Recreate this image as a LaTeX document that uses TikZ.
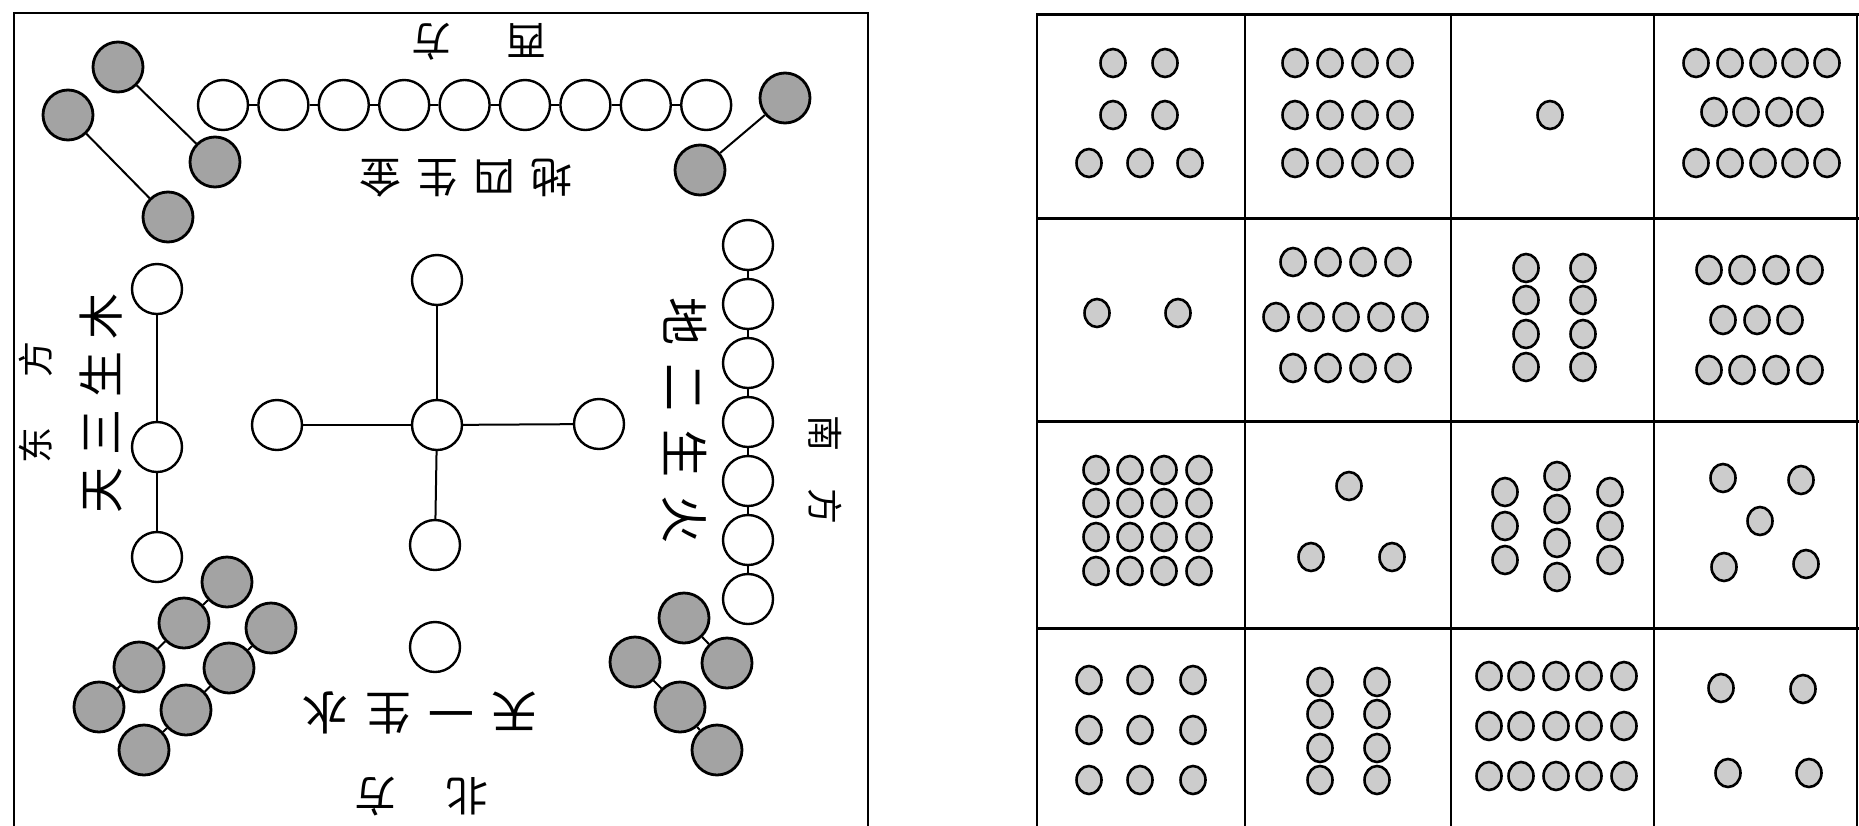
\documentclass[tikz,border=0pt]{standalone}
\usepackage{fontspec}
\newfontfamily\cjk{Noto Sans CJK SC}
\begin{document}
\begin{tikzpicture}[x=1pt,y=-1pt,
  wc/.style={circle,draw,line width=2.4pt,fill=white,minimum size=50pt,inner sep=0pt},
  bc/.style={wc,fill=black!36,line width=2.8pt},
  lk/.style={line width=2pt},
  frm/.style={line width=2.5pt},
  gd/.style={draw,line width=2.6pt,fill=black!20},
  txt/.style={inner sep=0pt}]
\useasboundingbox (0,0) rectangle (1859,825);
\clip (0,0) rectangle (1859,825);
\fill[white] (0,0) rectangle (1859,825);
% ---------- left panel frame
\draw[frm] (14,900) -- (14,13) -- (868,13) -- (868,900);
% top chain (9 white)
\foreach \i in {0,...,8} \node[wc] (t\i) at ({223+60.4*\i},105) {};
\foreach \i [count=\j from 1] in {0,...,7} \draw[lk] (t\i) -- (t\j);
% right chain (7 white)
\foreach \i in {0,...,6} \node[wc] (r\i) at (748,{245+59*\i}) {};
\foreach \i [count=\j from 1] in {0,...,5} \draw[lk] (r\i) -- (r\j);
% centre cross
\node[wc] (cc) at (437,425) {};
\node[wc] (cu) at (437,280) {};
\node[wc] (cl) at (277,425) {};
\node[wc] (cr) at (599,424) {};
\node[wc] (cd) at (435,545) {};
\node[wc] (one) at (435,647) {};
\foreach \n in {cu,cl,cr,cd} \draw[lk] (cc) -- (\n);
% left vertical (3 white)
\node[wc] (l1) at (157,289) {};
\node[wc] (l2) at (157,447) {};
\node[wc] (l3) at (157,557) {};
\draw[lk] (l1) -- (l2) -- (l3);
% top-left black
\node[bc] (a1) at (118,67) {};
\node[bc] (a2) at (215,162) {};
\node[bc] (a3) at (68,115) {};
\node[bc] (a4) at (168,217) {};
\draw[lk] (a1) -- (a2);
\draw[lk] (a3) -- (a4);
% top-right black
\node[bc] (b1) at (785,98) {};
\node[bc] (b2) at (700,170) {};
\draw[lk] (b1) -- (b2);
% bottom-left black (8)
\node[bc] (p1) at (227,582) {};
\node[bc] (p2) at (184,623) {};
\node[bc] (p3) at (139,667) {};
\node[bc] (p4) at (99,707) {};
\node[bc] (q1) at (271,628) {};
\node[bc] (q2) at (229,668) {};
\node[bc] (q3) at (186,710) {};
\node[bc] (q4) at (144,750) {};
\draw[lk] (p1) -- (p2) -- (p3) -- (p4);
\draw[lk] (q1) -- (q2) -- (q3) -- (q4);
% bottom-right black
\node[bc] (s1) at (684,618) {};
\node[bc] (s2) at (727,663) {};
\node[bc] (u1) at (635,662) {};
\node[bc] (u2) at (680,707) {};
\node[bc] (u3) at (717,750) {};
\draw[lk] (s1) -- (s2);
\draw[lk] (u1) -- (u2) -- (u3);
% texts
\node[txt,rotate=180,font=\cjk\fontsize{40}{40}\selectfont] (tl) at (479,42) {西\hspace{55pt}方};
\node[txt,rotate=180,font=\cjk\fontsize{42}{42}\selectfont] (tt) at (466,178) {地\hspace{15pt}四\hspace{15pt}生\hspace{15pt}金};
\node[txt,rotate=90,font=\cjk\fontsize{36}{36}\selectfont] (ll) at (36,402) {东\hspace{50pt}方};
\node[txt,rotate=90,font=\cjk\fontsize{46}{46}\selectfont] (lt) at (101,403) {天\hspace{12pt}三\hspace{12pt}生\hspace{12pt}木};
\node[txt,rotate=-90,font=\cjk\fontsize{48}{48}\selectfont] (rt) at (685,420) {地\hspace{18pt}二\hspace{18pt}生\hspace{18pt}火};
\node[txt,rotate=-90,font=\cjk\fontsize{36}{36}\selectfont] (rl) at (825,470) {南\hspace{38pt}方};
\node[txt,rotate=180,font=\cjk\fontsize{46}{46}\selectfont] (bt) at (420,713) {天\hspace{17pt}一\hspace{17pt}生\hspace{17pt}水};
\node[txt,rotate=180,font=\cjk\fontsize{42}{42}\selectfont] (bl) at (421,797) {北\hspace{50pt}方};
% ---------- right grid
\foreach \x in {1037,1245,1451,1654,1857} \draw[line width=2.2pt] (\x,13) -- (\x,900);
\foreach \y in {14,218,421,628} \draw[line width=3pt] (1037,\y) -- (1859,\y);
\newcommand{\dt}[2]{\path[gd] (#1,#2) circle[x radius=12.5,y radius=14];}
% row 1
\dt{1113}{63}\dt{1165}{63}\dt{1113}{115}\dt{1165}{115}\dt{1089}{163}\dt{1140}{163}\dt{1190}{163}
\foreach \y in {63,115,163}{\foreach \x in {1295,1330,1365,1400}{\dt{\x}{\y}}}
\dt{1550}{115}
\foreach \x in {1696,1730,1763,1795,1827}{\dt{\x}{63}\dt{\x}{163}}
\foreach \x in {1714,1746,1779,1810}{\dt{\x}{112}}
% row 2
\dt{1097}{313}\dt{1178}{313}
\foreach \x in {1293,1328,1363,1398}{\dt{\x}{262}\dt{\x}{368}}
\foreach \x in {1276,1311,1346,1381,1415}{\dt{\x}{317}}
\foreach \y in {268,300,334,367}{\dt{1526}{\y}\dt{1583}{\y}}
\foreach \x in {1709,1742,1776,1810}{\dt{\x}{270}\dt{\x}{370}}
\foreach \x in {1723,1757,1790}{\dt{\x}{320}}
% row 3
\foreach \y in {470,503,537,571}{\foreach \x in {1096,1130,1164,1199}{\dt{\x}{\y}}}
\dt{1349}{486}\dt{1311}{557}\dt{1392}{557}
\foreach \y in {492,526,560}{\dt{1505}{\y}\dt{1610}{\y}}
\foreach \y in {476,509,543,577}{\dt{1557}{\y}}
\dt{1723}{478}\dt{1801}{480}\dt{1760}{521}\dt{1724}{567}\dt{1806}{564}
% row 4
\foreach \y in {680,730,780}{\foreach \x in {1089,1140,1193}{\dt{\x}{\y}}}
\foreach \y in {682,714,748,780}{\dt{1320}{\y}\dt{1377}{\y}}
\foreach \y in {676,726,776}{\foreach \x in {1489,1521,1556,1589,1624}{\dt{\x}{\y}}}
\dt{1721}{688}\dt{1803}{689}\dt{1728}{773}\dt{1809}{773}
\end{tikzpicture}
\end{document}
